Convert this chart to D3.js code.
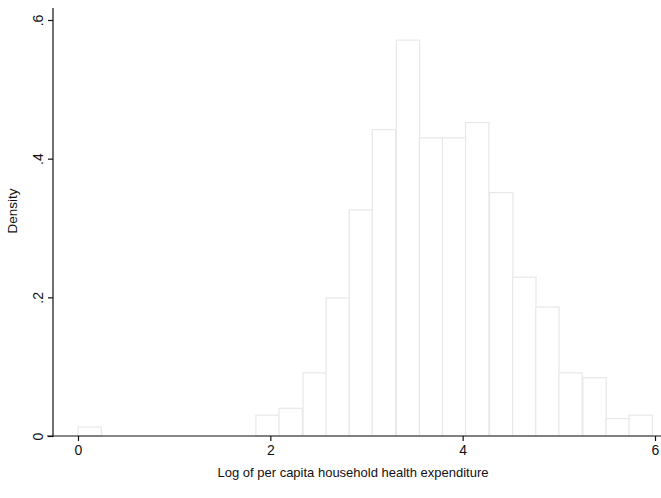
<!DOCTYPE html>
<html>
<head>
  <meta charset="utf-8">
  <title>Histogram of log health expenditure</title>
  <script src="https://d3js.org/d3.v7.min.js"></script>
  <style>
    body { margin: 0; background: #fff; }
    svg { font-family: "Liberation Sans", Arial, sans-serif; }
    .bar { fill: #fff; stroke: #e8e8e8; stroke-width: 1.2px; }
    .axis path, .axis line { stroke: #111; stroke-width: 1.2px; }
    .axis text { fill: #111; font-size: 14px; }
  </style>
</head>
<body>
  <script>
    // Data: left edge of each bin and its density
    var binLeft = [0.0, 1.85, 2.09, 2.34, 2.58, 2.82, 3.06, 3.31, 3.55, 3.79,
                   4.03, 4.28, 4.52, 4.76, 5.0, 5.25, 5.49, 5.73];
    var density = [0.013, 0.030, 0.040, 0.091, 0.199, 0.326, 0.442, 0.571, 0.430, 0.430,
                   0.452, 0.351, 0.229, 0.186, 0.091, 0.084, 0.025, 0.030];
    var binWidth = 0.2425;
    var xTicks = [0, 2, 4, 6];
    var yTicks = [0, 0.2, 0.4, 0.6];

    var W = 661, H = 498;

    var svg = d3.select("body")
      .append("svg")
      .attr("width", W)
      .attr("height", H);

    // Scales
    var x = d3.scaleLinear().domain([0, 6]).range([78, 655]);
    var y = d3.scaleLinear().domain([0, 0.6]).range([436, 20]);

    var bins = binLeft.map(function(b, i) { return {x0: b, x1: b + binWidth, d: density[i]}; });

    // Bars
    svg.selectAll(".bar")
      .data(bins)
      .enter().append("rect")
      .attr("class", "bar")
      .attr("x", function(d) { return x(d.x0); })
      .attr("width", function(d) { return x(d.x1) - x(d.x0); })
      .attr("y", function(d) { return y(d.d); })
      .attr("height", function(d) { return y(0) - y(d.d); });

    // Y axis
    var yAxis = svg.append("g")
      .attr("class", "axis")
      .attr("transform", "translate(53,0)")
      .call(d3.axisLeft(y).tickValues(yTicks).tickSize(5).tickSizeOuter(0)
        .tickFormat(function(d) { return d === 0 ? "0" : d3.format(".1f")(d).replace(/^0/, ""); }));
    yAxis.select(".domain").attr("d", "M0,8V437");
    yAxis.selectAll(".tick text")
      .attr("transform", "rotate(-90)")
      .attr("x", 0)
      .attr("y", -10)
      .attr("dy", 0)
      .style("text-anchor", "middle");

    // X axis
    var xAxis = svg.append("g")
      .attr("class", "axis")
      .attr("transform", "translate(0,436)")
      .call(d3.axisBottom(x).tickValues(xTicks).tickSize(5).tickSizeOuter(0)
        .tickFormat(d3.format("d")));
    xAxis.select(".domain").attr("d", "M47,0H661");
    xAxis.selectAll(".tick text").attr("y", 9);

    // Axis titles
    svg.append("text")
      .attr("x", 353)
      .attr("y", 477)
      .attr("text-anchor", "middle")
      .style("font-size", "13px")
      .style("fill", "#111")
      .text("Log of per capita household health expenditure");

    svg.append("text")
      .attr("transform", "translate(17,211) rotate(-90)")
      .attr("text-anchor", "middle")
      .style("font-size", "13.5px")
      .style("fill", "#111")
      .text("Density");
  </script>
</body>
</html>
